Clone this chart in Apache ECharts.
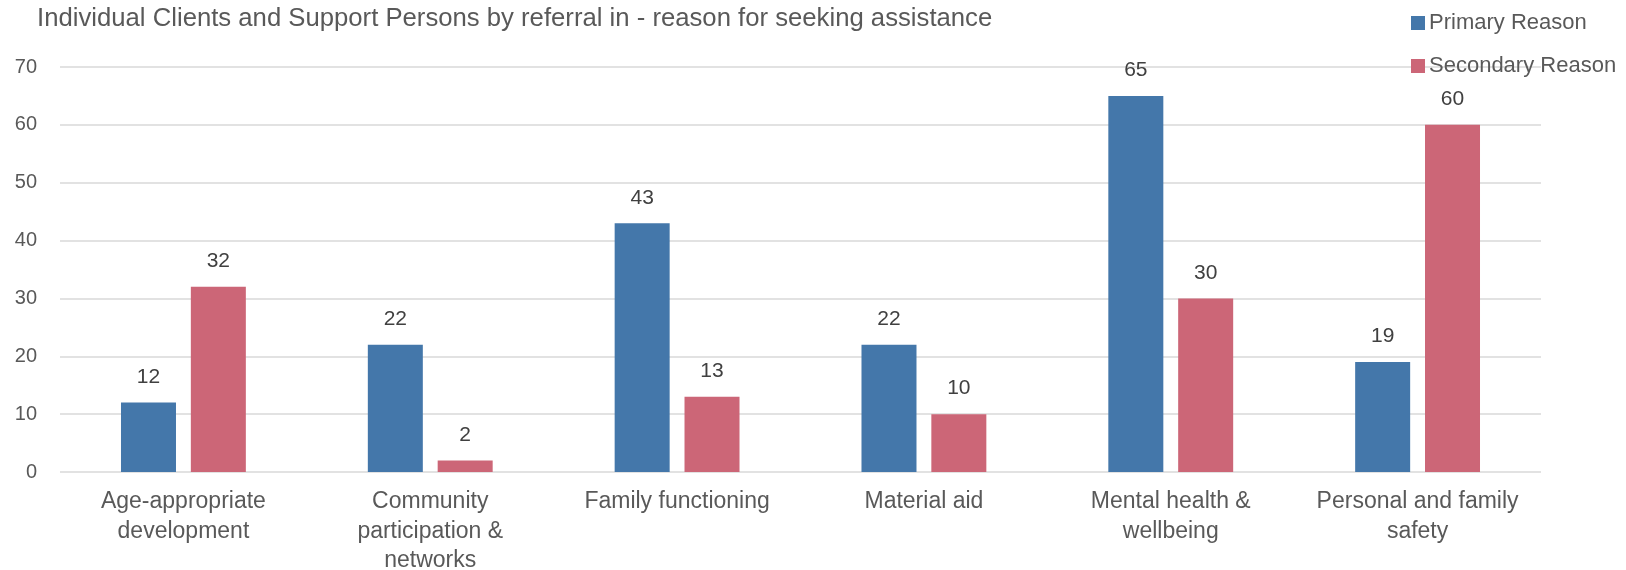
<!DOCTYPE html>
<html>
<head>
<meta charset="utf-8">
<script src="https://cdn.jsdelivr.net/npm/echarts@6/dist/echarts.min.js"></script>
<style>html,body{margin:0;padding:0;background:#fff}#c{width:1626px;height:570px}</style>
</head>
<body>
<div id="c"></div>
<script>
const titleText = "Individual Clients and Support Persons by referral in - reason for seeking assistance";
const categories = [
  "Age-appropriate\ndevelopment",
  "Community\nparticipation &\nnetworks",
  "Family functioning",
  "Material aid",
  "Mental health &\nwellbeing",
  "Personal and family\nsafety"
];
const primaryName = "Primary Reason";
const secondaryName = "Secondary Reason";
const primaryValues = [12, 22, 43, 22, 65, 19];
const secondaryValues = [32, 2, 13, 10, 30, 60];
const yMin = 0, yMax = 70, yInterval = 10;

const FONT = "'Liberation Sans', Arial, sans-serif";
const chart = echarts.init(document.getElementById('c'), null, {renderer: 'canvas'});
const labelCfg = {
  show: true, position: 'top', distance: 15,
  color: '#404040', fontSize: 21, fontFamily: FONT
};
chart.setOption({
  animation: false,
  backgroundColor: '#ffffff',
  title: {
    text: titleText, left: 37, top: 6, padding: 0,
    textStyle: {color: '#595959', fontSize: 25.7, fontWeight: 'normal', fontFamily: FONT}
  },
  legend: {
    orient: 'vertical', left: 1411, top: 12, itemWidth: 14, itemHeight: 14, itemGap: 21,
    padding: 0, icon: 'rect',
    textStyle: {color: '#595959', fontSize: 22, fontFamily: FONT, lineHeight: 22, padding: [0,0,0,-1]},
    data: [primaryName, secondaryName]
  },
  grid: {left: 60, right: 85, top: 67, bottom: 98, containLabel: false, outerBoundsMode: 'none'},
  xAxis: {
    type: 'category', data: categories,
    axisLine: {show: false}, axisTick: {show: false},
    axisLabel: {color: '#595959', fontSize: 23, fontFamily: FONT, lineHeight: 29.5, margin: 15, interval: 0}
  },
  yAxis: {
    type: 'value', min: yMin, max: yMax, interval: yInterval,
    axisLine: {show: false}, axisTick: {show: false},
    axisLabel: {color: '#595959', fontSize: 20, fontFamily: FONT, margin: 23},
    splitLine: {lineStyle: {color: '#d9d9d9', width: 1.5}}
  },
  series: [
    {name: primaryName, type: 'bar', data: primaryValues, barWidth: 55, barGap: '27%',
     itemStyle: {color: '#4477AA'}, label: labelCfg},
    {name: secondaryName, type: 'bar', data: secondaryValues, barWidth: 55,
     itemStyle: {color: '#CC6677'}, label: labelCfg}
  ]
});
</script>
</body>
</html>
